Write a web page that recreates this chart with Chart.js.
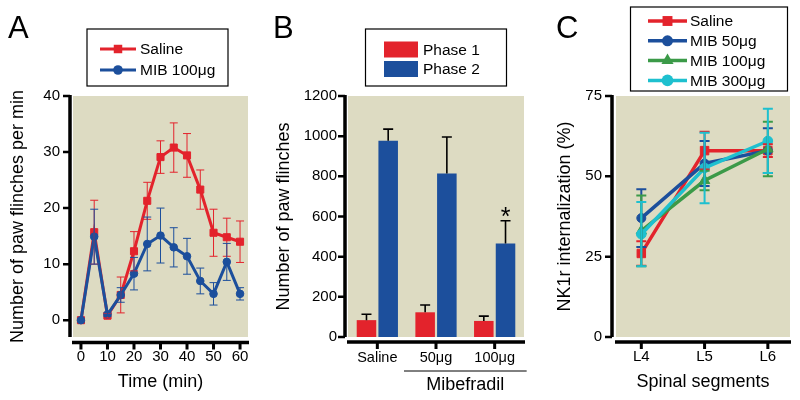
<!DOCTYPE html>
<html>
<head>
<meta charset="utf-8">
<script src="https://cdn.jsdelivr.net/npm/chart.js@4.4.1/dist/chart.umd.min.js"></script>
<style>
  body { margin: 0; background: #fff; }
  #fig { position: relative; width: 800px; height: 400px; font-family: "Liberation Sans", Arial, sans-serif; }
  canvas { position: absolute; top: 0; }
  .letter { position: absolute; top: 10px; font-size: 31px; line-height: 36px; color: #000; }
</style>
</head>
<body>
<div id="fig">
  <canvas id="panelA" width="265" height="400" style="left:0"></canvas>
  <canvas id="panelB" width="265" height="400" style="left:265px"></canvas>
  <canvas id="panelC" width="270" height="400" style="left:530px"></canvas>
  <div class="letter" style="left:8px">A</div>
  <div class="letter" style="left:273px">B</div>
  <div class="letter" style="left:556px">C</div>
</div>
<script>
"use strict";
// ========== DATA ========== //
// A: paw flinches per min over time
const timeMin = [0, 5, 10, 15, 20, 25, 30, 35, 40, 45, 50, 55, 60];
const salineA = [0, 15.7, 0.8, 4.5, 12.3, 21.3, 29.1, 30.8, 29.4, 23.3, 15.6, 14.8, 14.0];
const salineAErr = [0, 5.7, 0.4, 3.2, 3.5, 3.3, 2.9, 4.4, 3.9, 3.5, 4.2, 3.4, 3.7];
const mib100A = [0, 14.9, 1.0, 4.5, 8.3, 13.6, 15.1, 13.0, 11.4, 7.0, 4.7, 10.4, 4.7];
const mib100AErr = [0, 4.9, 0.3, 1.3, 2.9, 4.8, 4.9, 3.5, 3.2, 2.3, 2.0, 3.3, 1.1];
const timeTicks = [0, 10, 20, 30, 40, 50, 60];
const flinchTicks = [0, 10, 20, 30, 40];

// B: total paw flinches per phase
const groupsB = ['Saline', '50μg', '100μg'];
const phase1 = [84, 123, 80];
const phase1Err = [29, 36, 24];
const phase2 = [977, 814, 466];
const phase2Err = [58, 182, 113];
const phase2Marks = ['', '', '*'];
const groupName = 'Mibefradil';
const groupMembers = [1, 2];
const totalTicks = [0, 200, 400, 600, 800, 1000, 1200];

// C: NK1r internalization by spinal segment
const segments = ['L4', 'L5', 'L6'];
const segIdx = [0, 1, 2];
const salineC = [26, 58, 58];
const salineCErr = [3.8, 5.9, 2];
const mib50C = [37, 54, 58];
const mib50CErr = [9, 7, 7];
const mib100C = [33, 48.7, 58.5];
const mib100CErr = [11, 3, 8.5];
const mib300C = [32, 52.6, 61];
const mib300CErr = [10, 11, 10];
const nk1Ticks = [0, 25, 50, 75];

// ========== STYLE ========== //
const RED = '#e3232c';
const BLUE = '#1c4f9c';
const GREEN = '#3b9a48';
const CYAN = '#1ec0cf';
const BEIGE = '#dddbc2';
const FONT = '"Liberation Sans", Arial, sans-serif';

Chart.defaults.font.family = FONT;
Chart.defaults.color = '#000';
Chart.defaults.animation = false;

function drawMarker(ctx, style, r, x, y, color) {
  ctx.fillStyle = color;
  ctx.beginPath();
  if (style === 'rect') {
    const s = r * Math.SQRT1_2;
    ctx.rect(x - s, y - s, 2 * s, 2 * s);
  } else if (style === 'triangle') {
    ctx.moveTo(x, y - r);
    ctx.lineTo(x + r * 0.866, y + r * 0.5);
    ctx.lineTo(x - r * 0.866, y + r * 0.5);
    ctx.closePath();
  } else {
    ctx.arc(x, y, r, 0, Math.PI * 2);
  }
  ctx.fill();
}

// ========== PLUGINS ========== //
const plotBg = {
  id: 'plotBg',
  beforeDraw(chart) {
    const {ctx, chartArea: a} = chart;
    ctx.save();
    ctx.fillStyle = BEIGE;
    ctx.fillRect(a.left, a.top, a.right - a.left, a.bottom - a.top);
    ctx.restore();
  }
};

// thick axis lines set off from the plot area, with tick marks
const axisFrame = {
  id: 'axisFrame',
  afterDraw(chart, args, o) {
    const {ctx, chartArea: a, scales: {x, y}} = chart;
    const ax = a.left - o.yGap;
    const ay = a.bottom + o.xGap;
    ctx.save();
    ctx.strokeStyle = '#000';
    ctx.lineWidth = 3.5;
    ctx.beginPath();
    ctx.moveTo(ax, a.top - 1);
    ctx.lineTo(ax, a.bottom);
    ctx.moveTo(a.left - 1, ay);
    ctx.lineTo(a.right + 1, ay);
    ctx.stroke();
    ctx.lineWidth = 2.5;
    ctx.beginPath();
    y.ticks.forEach((t, i) => {
      const py = y.getPixelForTick(i);
      ctx.moveTo(ax, py);
      ctx.lineTo(ax - 7, py);
    });
    ctx.stroke();
    ctx.lineWidth = 3;
    ctx.beginPath();
    x.ticks.forEach((t, i) => {
      const px = x.getPixelForTick(i);
      ctx.moveTo(px, ay);
      ctx.lineTo(px, ay + 7);
    });
    ctx.stroke();
    ctx.restore();
  }
};

const errorBars = {
  id: 'errorBars',
  afterDatasetsDraw(chart, args, o) {
    const {ctx, scales: {y}} = chart;
    chart.data.datasets.forEach((ds, di) => {
      if (!ds.errors) return;
      const meta = chart.getDatasetMeta(di);
      ctx.save();
      ctx.strokeStyle = o.color || ds.borderColor;
      ctx.lineWidth = o.width;
      ctx.beginPath();
      meta.data.forEach((el, i) => {
        const e = ds.errors[i];
        if (!e) return;
        const d = ds.data[i];
        const v = typeof d === 'object' ? d.y : d;
        const top = y.getPixelForValue(v + e);
        const bot = o.upOnly ? el.y : y.getPixelForValue(v - e);
        ctx.moveTo(el.x, top);
        ctx.lineTo(el.x, bot);
        ctx.moveTo(el.x - o.cap, top);
        ctx.lineTo(el.x + o.cap, top);
        if (!o.upOnly) {
          ctx.moveTo(el.x - o.cap, bot);
          ctx.lineTo(el.x + o.cap, bot);
        }
      });
      ctx.stroke();
      // significance marks above the error bar
      if (ds.marks) {
        ctx.fillStyle = '#000';
        ctx.font = '25px ' + FONT;
        ctx.textAlign = 'center';
        ctx.textBaseline = 'alphabetic';
        meta.data.forEach((el, i) => {
          if (!ds.marks[i]) return;
          const top = y.getPixelForValue(ds.data[i] + ds.errors[i]);
          ctx.fillText(ds.marks[i], el.x, top + 4);
        });
      }
      ctx.restore();
    });
  }
};

const boxLegend = {
  id: 'boxLegend',
  afterDraw(chart, args, o) {
    const ctx = chart.ctx;
    ctx.save();
    ctx.strokeStyle = '#000';
    ctx.lineWidth = 1.2;
    ctx.strokeRect(o.x, o.y, o.w, o.h);
    ctx.font = '15.5px ' + FONT;
    ctx.textBaseline = 'middle';
    ctx.textAlign = 'left';
    chart.data.datasets.forEach((ds, i) => {
      const cy = o.rowY + i * o.rowStep;
      if (o.swatch) {
        ctx.fillStyle = ds.backgroundColor;
        ctx.fillRect(o.sx0, cy - o.swatchH / 2, o.sx1 - o.sx0, o.swatchH);
      } else {
        ctx.strokeStyle = ds.borderColor;
        ctx.lineWidth = ds.borderWidth;
        ctx.beginPath();
        ctx.moveTo(o.sx0, cy);
        ctx.lineTo(o.sx1, cy);
        ctx.stroke();
        drawMarker(ctx, ds.pointStyle, ds.pointRadius + 1, (o.sx0 + o.sx1) / 2, cy, ds.borderColor);
      }
      ctx.fillStyle = '#000';
      ctx.fillText(ds.label, o.textX, cy + 1);
    });
    ctx.restore();
  }
};

// bracket line and name under a group of categories
const groupLabel = {
  id: 'groupLabel',
  afterDraw(chart, args, o) {
    const {ctx, scales: {x}} = chart;
    const x0 = x.getPixelForTick(groupMembers[0]) - 32;
    const x1 = x.getPixelForTick(groupMembers[groupMembers.length - 1]) + 32;
    ctx.save();
    ctx.strokeStyle = '#000';
    ctx.lineWidth = 1;
    ctx.beginPath();
    ctx.moveTo(x0, o.lineY);
    ctx.lineTo(x1, o.lineY);
    ctx.stroke();
    ctx.fillStyle = '#000';
    ctx.font = '18px ' + FONT;
    ctx.textAlign = 'center';
    ctx.textBaseline = 'middle';
    ctx.fillText(groupName, (x0 + x1) / 2, o.textY);
    ctx.restore();
  }
};

function fixTicks(values) {
  return scale => { scale.ticks = values.map(v => ({value: v})); };
}
function yScale(min, max, ticks, width, title, titlePad, tickPad) {
  return {
    min, max,
    afterBuildTicks: fixTicks(ticks),
    afterFit: s => { s.width = width; },
    grid: {display: false, drawTicks: false},
    border: {display: false},
    ticks: {font: {size: 15}, padding: tickPad, callback: v => String(v)},
    title: {display: true, text: title, font: {size: 18}, padding: {top: titlePad, bottom: 0}}
  };
}

// ========== PANEL A ========== //
function toXY(xs, ys) {
  return xs.map((x, i) => ({x, y: ys[i]}));
}

new Chart(document.querySelector('#panelA'), {
  type: 'line',
  data: {
    datasets: [
      {
        label: 'Saline', data: toXY(timeMin, salineA), errors: salineAErr,
        borderColor: RED, backgroundColor: RED, borderWidth: 3,
        pointStyle: 'rect', pointRadius: 5, pointBorderWidth: 1,
        pointBackgroundColor: RED, pointBorderColor: RED, order: 2
      },
      {
        label: 'MIB 100μg', data: toXY(timeMin, mib100A), errors: mib100AErr,
        borderColor: BLUE, backgroundColor: BLUE, borderWidth: 3,
        pointStyle: 'circle', pointRadius: 3.8, pointBorderWidth: 1,
        pointBackgroundColor: BLUE, pointBorderColor: BLUE, order: 1
      }
    ]
  },
  options: {
    responsive: false,
    layout: {padding: {left: 0, right: 17, top: 96, bottom: 0}},
    plugins: {
      legend: {display: false}, tooltip: {enabled: false},
      axisFrame: {yGap: 3, xGap: 5.5},
      errorBars: {width: 1, cap: 4, upOnly: false},
      boxLegend: {x: 87, y: 29, w: 141, h: 57, rowY: 49, rowStep: 21, sx0: 100, sx1: 136, textX: 140}
    },
    scales: {
      x: {
        type: 'linear', min: -3, max: 63,
        afterBuildTicks: fixTicks(timeTicks),
        afterFit: s => { s.height = 63; },
        grid: {display: false, drawTicks: false},
        border: {display: false},
        ticks: {font: {size: 15}, padding: 11},
        title: {display: true, text: 'Time (min)', font: {size: 18}, padding: {top: 0, bottom: 7}}
      },
      y: yScale(-3, 40, flinchTicks, 73, 'Number of paw flinches per min', 7, 13)
    }
  },
  plugins: [plotBg, axisFrame, errorBars, boxLegend]
});

// ========== PANEL B ========== //
new Chart(document.querySelector('#panelB'), {
  type: 'bar',
  data: {
    labels: groupsB,
    datasets: [
      {label: 'Phase 1', data: phase1, errors: phase1Err, backgroundColor: RED, borderWidth: 0},
      {label: 'Phase 2', data: phase2, errors: phase2Err, marks: phase2Marks, backgroundColor: BLUE, borderWidth: 0}
    ]
  },
  options: {
    responsive: false,
    categoryPercentage: 0.74,
    barPercentage: 0.9,
    layout: {padding: {left: 0, right: 6, top: 96, bottom: 0}},
    plugins: {
      legend: {display: false}, tooltip: {enabled: false},
      axisFrame: {yGap: 3, xGap: 5},
      errorBars: {width: 1.6, cap: 5, upOnly: true, color: '#000'},
      boxLegend: {x: 100.5, y: 29, w: 141, h: 57, rowY: 49.5, rowStep: 19.5, swatch: true,
                  sx0: 119, sx1: 153, swatchH: 16, textX: 158},
      groupLabel: {lineY: 371, textY: 385}
    },
    scales: {
      x: {
        type: 'category',
        afterFit: s => { s.height = 63; },
        grid: {display: false, drawTicks: false},
        border: {display: false},
        ticks: {font: {size: 14.5}, padding: 12}
      },
      y: yScale(0, 1200, totalTicks, 83, 'Number of paw flinches', 8, 11)
    }
  },
  plugins: [plotBg, axisFrame, errorBars, boxLegend, groupLabel]
});

// ========== PANEL C ========== //
function segLine(label, values, errs, color, style, radius, order) {
  return {
    label, data: toXY(segIdx, values), errors: errs,
    borderColor: color, backgroundColor: color, borderWidth: 3.5,
    pointStyle: style, pointRadius: radius, pointBorderWidth: 1,
    pointBackgroundColor: color, pointBorderColor: color, order
  };
}

new Chart(document.querySelector('#panelC'), {
  type: 'line',
  data: {
    datasets: [
      segLine('Saline', salineC, salineCErr, RED, 'rect', 6, 4),
      segLine('MIB 50μg', mib50C, mib50CErr, BLUE, 'circle', 4.5, 3),
      segLine('MIB 100μg', mib100C, mib100CErr, GREEN, 'triangle', 6, 2),
      segLine('MIB 300μg', mib300C, mib300CErr, CYAN, 'circle', 4.8, 1)
    ]
  },
  options: {
    responsive: false,
    layout: {padding: {left: 0, right: 10, top: 96, bottom: 0}},
    plugins: {
      legend: {display: false}, tooltip: {enabled: false},
      axisFrame: {yGap: 4, xGap: 5},
      errorBars: {width: 2, cap: 5, upOnly: false},
      boxLegend: {x: 100.5, y: 7, w: 157, h: 84, rowY: 21, rowStep: 19.8, sx0: 118, sx1: 157, textX: 160}
    },
    scales: {
      x: {
        type: 'linear', min: -0.4, max: 2.35,
        afterBuildTicks: fixTicks(segIdx),
        afterFit: s => { s.height = 63; },
        grid: {display: false, drawTicks: false},
        border: {display: false},
        ticks: {font: {size: 15}, padding: 11, callback: v => segments[v]},
        title: {display: true, text: 'Spinal segments', font: {size: 18}, padding: {top: 0, bottom: 7}}
      },
      y: yScale(0, 75, nk1Ticks, 86, 'NK1r internalization (%)', 24, 14)
    }
  },
  plugins: [plotBg, axisFrame, errorBars, boxLegend]
});
</script>
</body>
</html>
